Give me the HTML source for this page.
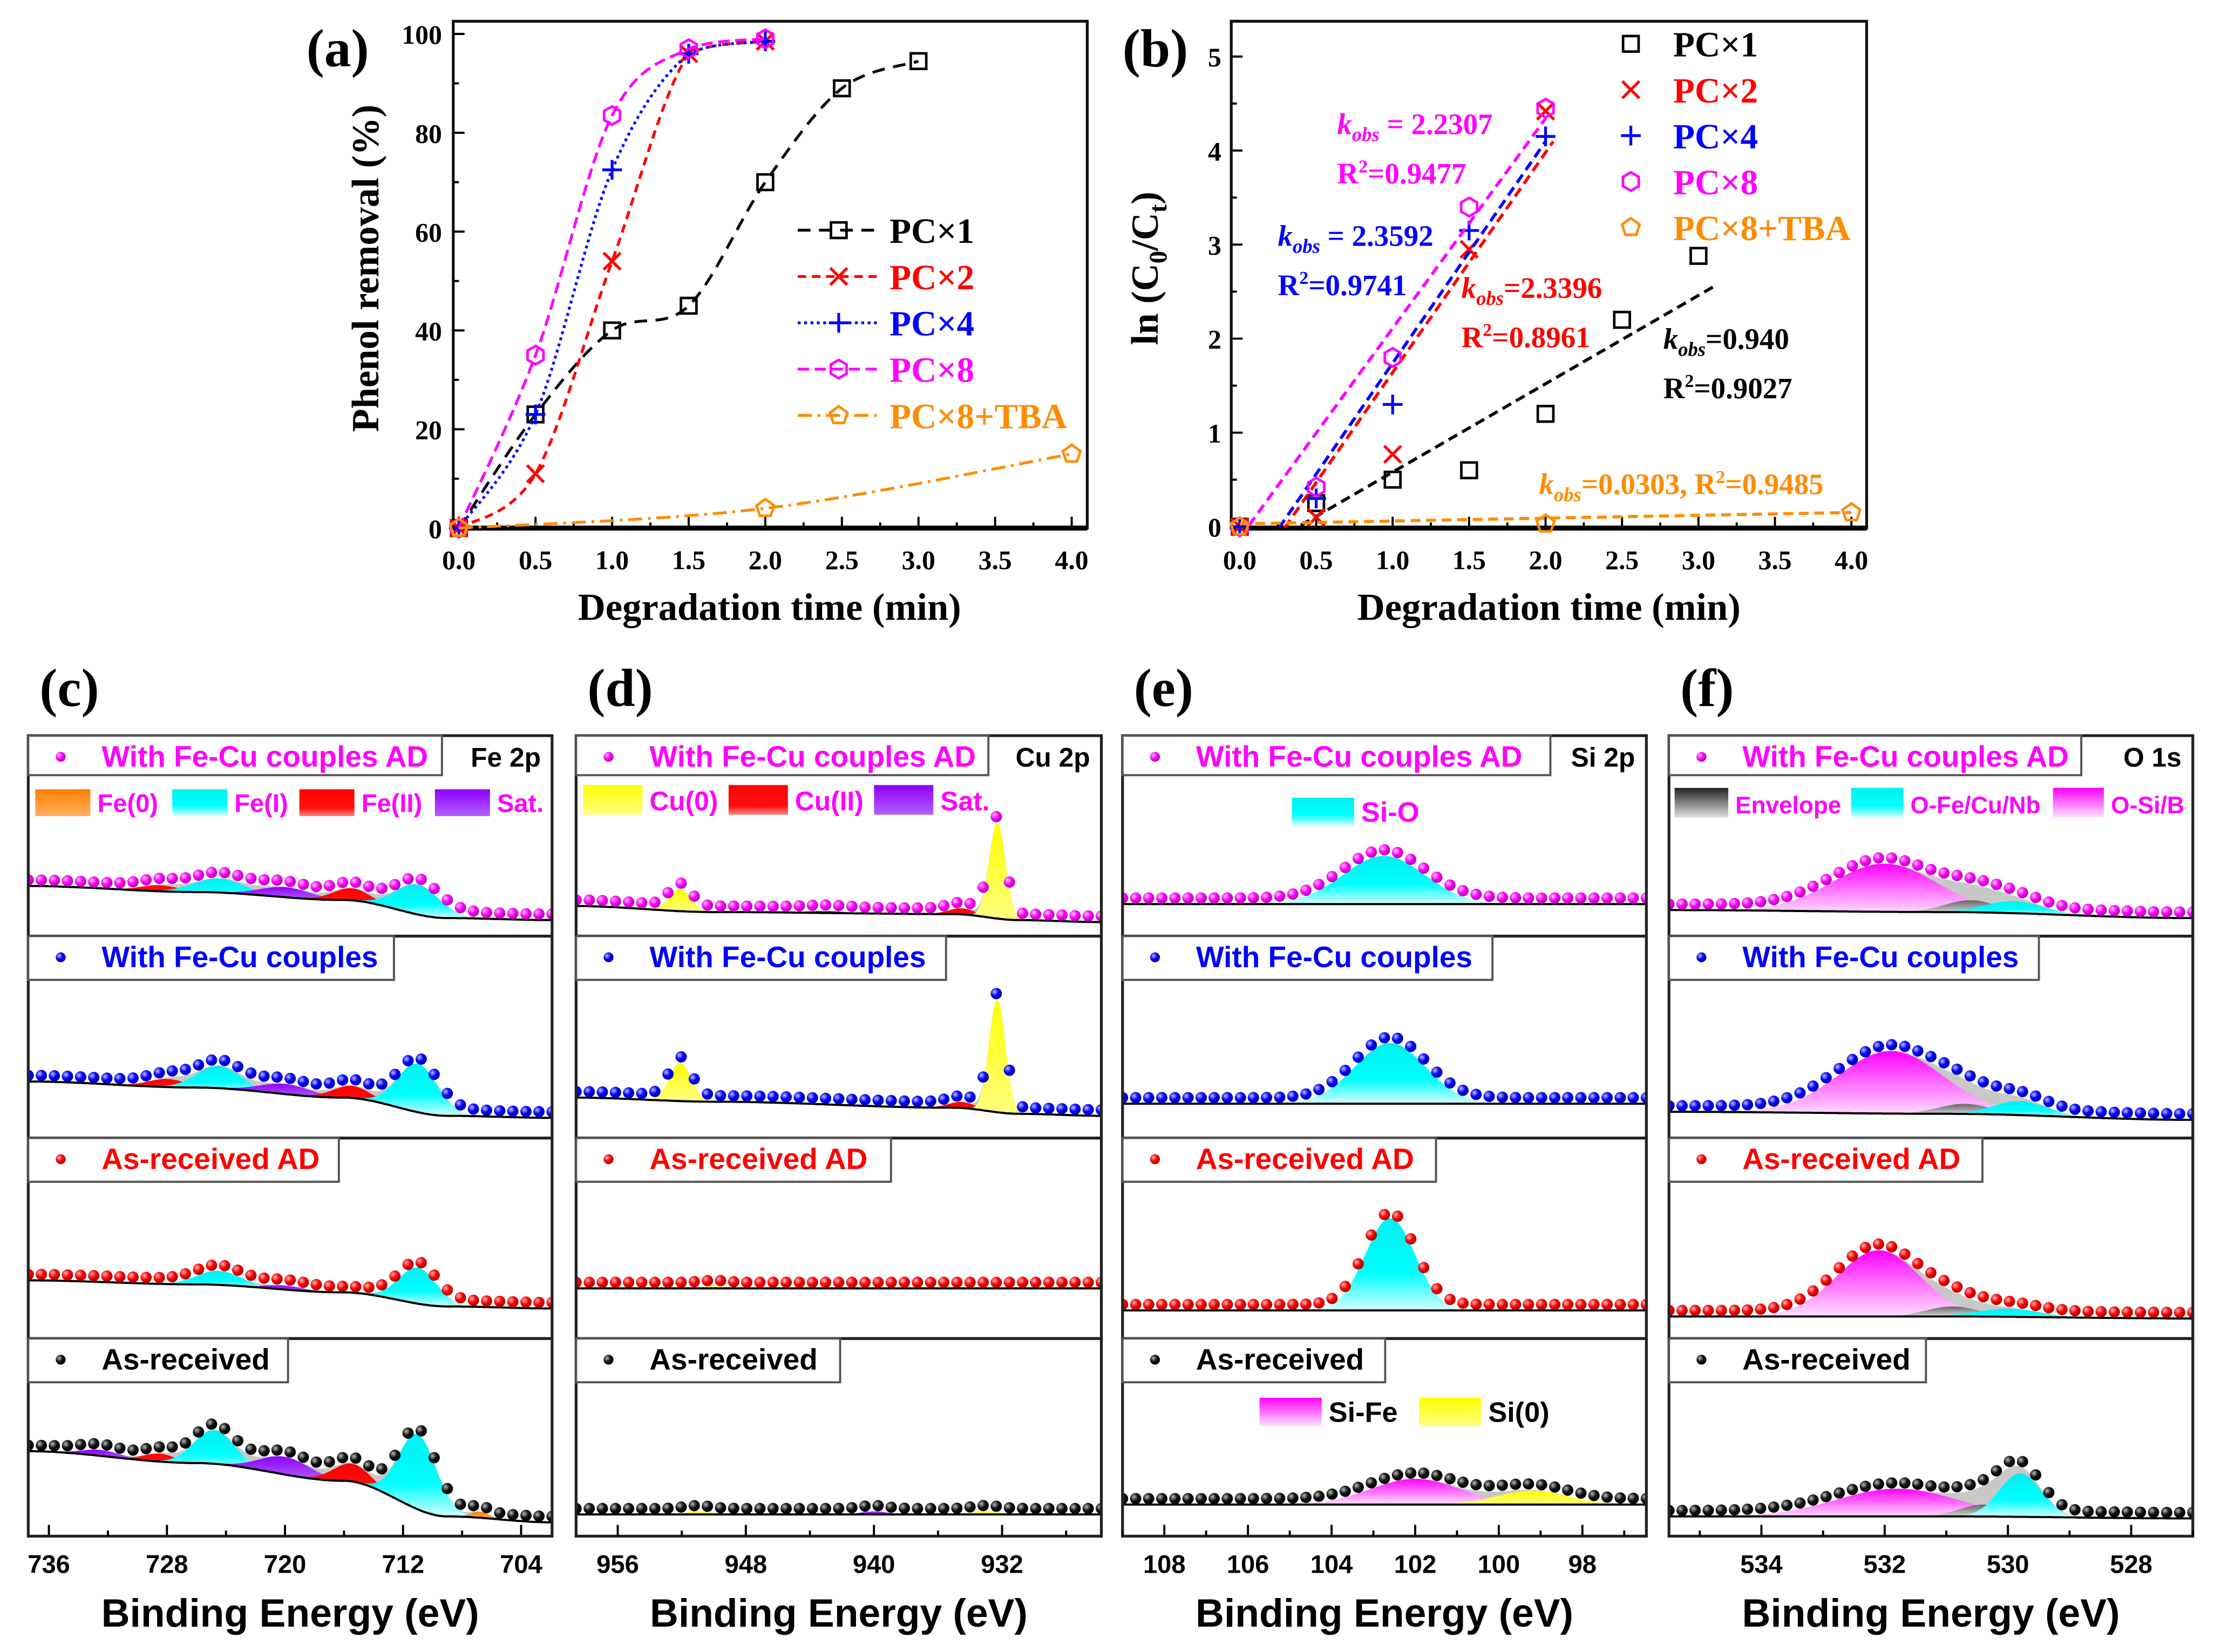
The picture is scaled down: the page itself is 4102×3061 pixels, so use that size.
<!DOCTYPE html>
<html><head><meta charset="utf-8"><style>
html,body{margin:0;padding:0;background:#fff;}
svg{display:block;}
.serif{font-family:"Liberation Serif",serif;font-weight:bold;}
.sans{font-family:"Liberation Sans Narrow","Liberation Sans",sans-serif;font-weight:bold;}
</style></head><body>
<svg id="fig" xmlns="http://www.w3.org/2000/svg" width="4102" height="3061" viewBox="0 0 1568 1170">
<defs>
<linearGradient id="gFeI" x1="0" y1="0" x2="0" y2="1"><stop offset="0" stop-color="#00f0f0"/><stop offset="0.6" stop-color="#00ffff"/><stop offset="1" stop-color="#d8ffff"/></linearGradient>
<linearGradient id="gFeII" x1="0" y1="0" x2="0" y2="1"><stop offset="0" stop-color="#ff0000"/><stop offset="0.7" stop-color="#ff1010"/><stop offset="1" stop-color="#ff8080"/></linearGradient>
<linearGradient id="gFe0" x1="0" y1="0" x2="0" y2="1"><stop offset="0" stop-color="#ff8000"/><stop offset="1" stop-color="#ffb060"/></linearGradient>
<linearGradient id="gSat" x1="0" y1="0" x2="0" y2="1"><stop offset="0" stop-color="#9000ff"/><stop offset="1" stop-color="#b060ff"/></linearGradient>
<linearGradient id="gCu0" x1="0" y1="0" x2="0" y2="1"><stop offset="0" stop-color="#ffff00"/><stop offset="1" stop-color="#ffff80"/></linearGradient>
<linearGradient id="gMag" x1="0" y1="0" x2="0" y2="1"><stop offset="0" stop-color="#ff00ff"/><stop offset="1" stop-color="#ffe0ff"/></linearGradient>
<linearGradient id="gEnv" x1="0" y1="0" x2="0" y2="1"><stop offset="0" stop-color="#222"/><stop offset="1" stop-color="#e0e0e0"/></linearGradient>
<linearGradient id="gEnvF" x1="0" y1="0" x2="0" y2="1"><stop offset="0" stop-color="#666"/><stop offset="1" stop-color="#ddd"/></linearGradient>
<radialGradient id="dM" cx="0.35" cy="0.35" r="0.7"><stop offset="0" stop-color="#ffd0ff"/><stop offset="0.5" stop-color="#ff00ff"/><stop offset="1" stop-color="#b000b0"/></radialGradient>
<radialGradient id="dB" cx="0.35" cy="0.35" r="0.7"><stop offset="0" stop-color="#c0c0ff"/><stop offset="0.5" stop-color="#0000ff"/><stop offset="1" stop-color="#0000a0"/></radialGradient>
<radialGradient id="dR" cx="0.35" cy="0.35" r="0.7"><stop offset="0" stop-color="#ffc0c0"/><stop offset="0.5" stop-color="#ff0000"/><stop offset="1" stop-color="#a00000"/></radialGradient>
<radialGradient id="dK" cx="0.35" cy="0.35" r="0.7"><stop offset="0" stop-color="#bbb"/><stop offset="0.5" stop-color="#111"/><stop offset="1" stop-color="#000"/></radialGradient>
</defs>
<g id="root"></g>
</svg>
<script>
// ---------- Panel (a) data ----------
const aTime1 = [0, 0.5, 1, 1.5, 2, 2.5, 3];
const aPC1 = [0, 23, 40, 45, 70, 89, 94.5];
const aTime2 = [0, 0.5, 1, 1.5, 2];
const aPC2 = [0, 11, 54, 96, 98.5];
const aPC4 = [0, 23, 72.5, 96, 98.5];
const aPC8 = [0, 35, 83.5, 97, 99];
const aTimeT = [0, 2, 4];
const aTBA = [0, 4, 15];
const aXTicks = ["0.0","0.5","1.0","1.5","2.0","2.5","3.0","3.5","4.0"];
const aYTicks = ["0","20","40","60","80","100"];
// ---------- Panel (b) data ----------
const bTime1 = [0, 0.5, 1, 1.5, 2, 2.5, 3];
const bPC1 = [0, 0.25, 0.5, 0.6, 1.2, 2.2, 2.88];
const bTime2 = [0, 0.5, 1, 1.5, 2];
const bPC2 = [0, 0.1, 0.77, 2.95, 4.42];
const bPC4 = [0, 0.3, 1.3, 3.15, 4.15];
const bPC8 = [0, 0.42, 1.8, 3.4, 4.45];
const bTimeT = [0, 2, 4];
const bTBA = [0, 0.03, 0.15];
const bSlopes = [0.940, 2.3396, 2.3592, 2.2307, 0.0303];
const bIntercepts = [-0.36, -0.70, -0.62, -0.12, 0.03];
const bFitEnd = [3.1, 2.05, 2.0, 2.0, 4.0];
const bYTicks = ["0","1","2","3","4","5"];
// ---------- XPS data (baseline [eV, level], components [type, center eV, height, fwhm]) ----------
const feBase = [[[737.4,25],[726,22],[716,18],[709,9],[701.9,8]],[[737.4,28],[726,25],[716,20],[709,11],[701.9,10]],[[737.4,29],[726,27],[716,23],[709,16],[701.9,15]],[[737.4,43],[726,37],[716,28],[709,10],[701.9,7]]];
const feComp = [
 [["FeII",728.5,3,3],["FeI",724.5,7,4],["Sat",720,5,4],["FeII",715.5,6,3],["FeI",711,15,3.5]],
 [["FeII",728,4,3],["FeI",724.5,11,3.5],["Sat",720,5,4],["FeII",715.5,6,3],["FeI",711,24,3.2]],
 [["FeI",724.5,7,3.5],["Sat",720,2,3],["FeI",711,18,3]],
 [["Sat",732.5,3,3],["FeII",728.5,4,2.5],["FeI",724.8,17,3.2],["Sat",720,9,4],["FeII",715.5,9,3],["FeI",711,38,3],["Fe0",706.8,3,1.5]]];
const cuBase = [[[958.6,15],[950,12],[935,11],[931,8],[925.8,7]],[[958.6,20],[950,18],[935,15],[931,12],[925.8,11]],[[958.6,25],[925.8,25]],[[958.6,11],[925.8,11]]];
const cuComp = [
 [["Cu0",952.1,11,1.6],["Sat",943,1,3],["CuII",934.5,3,2],["Cu0",932.3,48,1.2]],
 [["Cu0",952.1,19,1.6],["CuII",934.5,3,2],["Cu0",932.3,56,1.2]],
 [["Cu0",950,1,2]],
 [["Cu0",951,1.5,2],["Sat",940,1.5,2],["Cu0",933,1.5,2]]];
const siBase = [[[109,16],[96.5,16]],[[109,17],[96.5,17]],[[109,14],[96.5,14]],[[109,16],[96.5,16]]];
const siComp = [[["SiO",102.75,24,2.3]],[["SiO",102.6,30,2.0]],[["SiO",102.6,46,1.4]],[["SiFe",102,13,2.5],["Si0",99.2,7,2]]];
const oBase = [[[535.5,13],[531,12],[527,9]],[[535.5,13],[531,12],[527,9]],[[535.5,11],[531,11],[527,10]],[[535.5,10],[531,10],[527,9]]];
const oComp = [
 [["OSi",532,24,2.0],["Env",530.6,6,1.0],["OFe",529.9,6,1.1]],
 [["OSi",531.9,31,2.0],["Env",530.7,5,1.0],["OFe",529.8,7,1.0]],
 [["OSi",532.1,33,1.6],["Env",530.9,5,1.0],["OFe",530,4,1.2]],
 [["OSi",531.8,14,2.3],["Env",530.4,6,0.9],["OFe",529.8,22,0.8]]];
const feTicks = [736,728,720,712,704];
const cuTicks = [956,948,940,932];
const siTicks = [108,106,104,102,100,98];
const oTicks = [534,532,530,528];
const rowLabels = ["With Fe-Cu couples AD","With Fe-Cu couples","As-received AD","As-received"];

const NS="http://www.w3.org/2000/svg";
const root=document.getElementById('root');
function el(tag,attrs,parent){const e=document.createElementNS(NS,tag);for(const k in attrs)e.setAttribute(k,attrs[k]);(parent||root).appendChild(e);return e;}
function txt(s,attrs,parent){const e=el('text',attrs,parent);e.textContent=s;return e;}

function marker(type,x,y,color,g){
  let e;
  if(type==='sq'){e=el('rect',{x:x-5.5,y:y-5.5,width:11,height:11,fill:'none',stroke:color,'stroke-width':1.8},g);}
  else if(type==='x'){e=el('path',{d:`M${x-6},${y-6}L${x+6},${y+6}M${x-6},${y+6}L${x+6},${y-6}`,stroke:color,'stroke-width':2,fill:'none'},g);}
  else if(type==='+'){e=el('path',{d:`M${x-7},${y}L${x+7},${y}M${x},${y-7}L${x},${y+7}`,stroke:color,'stroke-width':2,fill:'none'},g);}
  else if(type==='hex'){let p=[];for(let i=0;i<6;i++){const a=Math.PI/6+i*Math.PI/3;p.push((x+6.5*Math.cos(a)).toFixed(1)+','+(y+6.5*Math.sin(a)).toFixed(1));}e=el('polygon',{points:p.join(' '),fill:'none',stroke:color,'stroke-width':1.8},g);}
  else {let p=[];for(let i=0;i<5;i++){const a=-Math.PI/2+i*2*Math.PI/5;p.push((x+6.5*Math.cos(a)).toFixed(1)+','+(y+6.5*Math.sin(a)).toFixed(1));}e=el('polygon',{points:p.join(' '),fill:'none',stroke:color,'stroke-width':1.8},g);}
  
  
  return e;
}
function spline(pts){
  let d=`M${pts[0][0]},${pts[0][1]}`;
  for(let i=0;i<pts.length-1;i++){
    const p0=pts[i-1]||pts[i],p1=pts[i],p2=pts[i+1],p3=pts[i+2]||p2;
    let c1=[p1[0]+(p2[0]-p0[0])/6,p1[1]+(p2[1]-p0[1])/6],c2=[p2[0]-(p3[0]-p1[0])/6,p2[1]-(p3[1]-p1[1])/6];
    const lo=Math.min(p1[1],p2[1]),hi=Math.max(p1[1],p2[1]);
    c1[1]=Math.min(Math.max(c1[1],lo),hi);c2[1]=Math.min(Math.max(c2[1],lo),hi);
    d+=`C${c1[0].toFixed(1)},${c1[1].toFixed(1)} ${c2[0].toFixed(1)},${c2[1].toFixed(1)} ${p2[0].toFixed(1)},${p2[1].toFixed(1)}`;
  }
  return d;
}
function axesBox(g,x0,y0,x1,y1){
  const b=el('rect',{x:x0,y:y0,width:x1-x0,height:y1-y0,fill:'none',stroke:'#111','stroke-width':2},g);
  
  
  const bl=el('line',{x1:x0,y1:y1,x2:x1,y2:y1,stroke:'#000','stroke-width':3.5},g);
  
  
}

// ================= Panel (a) =================
(function(){
  const g=el('g',{});
  
  
  const X=t=>325+t*108.5, Y=v=>374-v*3.5;
  axesBox(g,321,15,770,374);
  for(let i=0;i<=16;i++){const x=X(i*0.25);const t=el('line',{x1:x,y1:374,x2:x,y2:374-(i%2?4:8),stroke:'#000','stroke-width':1.5},g);}
  aXTicks.forEach((s,i)=>{const t=txt(s,{x:X(i*0.5),y:403,'font-size':19,'text-anchor':'middle',class:'serif'},g);});
  for(let i=0;i<=10;i++){const y=Y(i*10);const t=el('line',{x1:321,y1:y,x2:321+(i%2?4:8),y2:y,stroke:'#000','stroke-width':1.5},g);}
  aYTicks.forEach((s,i)=>{const t=txt(s,{x:313,y:Y(i*20)+7,'font-size':19,'text-anchor':'end',class:'serif'},g);});
  let t=txt('Phenol removal (%)',{x:0,y:0,'font-size':27,'text-anchor':'middle',class:'serif',transform:'translate(268,190) rotate(-90)'},g);
  
  t=txt('Degradation time (min)',{x:545,y:439,'font-size':27,'text-anchor':'middle',class:'serif'},g);
  
  t=txt('(a)',{x:217,y:47,'font-size':38,class:'serif'},g);
  
  const series=[
    [aTime1,aPC1,'#000','sq','9,6','PC×1'],
    [aTime2,aPC2,'#ff0000','x','6,4','PC×2'],
    [aTime2,aPC4,'#0000ff','+','2,2.5','PC×4'],
    [aTime2,aPC8,'#ff00ff','hex','8,4','PC×8'],
    [aTimeT,aTBA,'#ff8c00','pent','10,4,2,4','PC×8+TBA']];
  series.forEach((s,k)=>{
    const pts=s[0].map((tt,i)=>[X(tt),Y(s[1][i])]);
    const p=el('path',{d:spline(pts),fill:'none',stroke:s[2],'stroke-width':2,'stroke-dasharray':s[4]},g);
    
    
    pts.forEach(q=>marker(s[3],q[0],q[1],s[2],g));
    const ly=163+k*32.8;
    const ll=el('line',{x1:565,y1:ly,x2:622,y2:ly,stroke:s[2],'stroke-width':2,'stroke-dasharray':s[4]},g);
    
    
    marker(s[3],594,ly,s[2],g);
    const lt=txt(s[5],{x:630,y:ly+9,'font-size':25,fill:s[2],class:'serif'},g);
    
    
  });
})();

// ================= Panel (b) =================
(function(){
  const g=el('g',{});
  
  
  const X=t=>878+t*108.3, Y=v=>373-v*66.6;
  const clip=el('clipPath',{id:'clipB'},g);
  el('rect',{x:872,y:15,width:450,height:359},clip);
  axesBox(g,872,15,1322,374);
  for(let i=0;i<=16;i++){const x=X(i*0.25);const t=el('line',{x1:x,y1:374,x2:x,y2:374-(i%2?4:8),stroke:'#000','stroke-width':1.5},g);}
  aXTicks.forEach((s,i)=>{const t=txt(s,{x:X(i*0.5),y:403,'font-size':19,'text-anchor':'middle',class:'serif'},g);});
  for(let i=0;i<=10;i++){const y=Y(i*0.5);const t=el('line',{x1:872,y1:y,x2:872+(i%2?4:8),y2:y,stroke:'#000','stroke-width':1.5},g);}
  bYTicks.forEach((s,i)=>{const t=txt(s,{x:865,y:Y(i)+7,'font-size':19,'text-anchor':'end',class:'serif'},g);});
  let t=el('text',{x:0,y:0,'font-size':27,'text-anchor':'middle',class:'serif',transform:'translate(820,190) rotate(-90)'},g);
  t.innerHTML='ln (C<tspan font-size="18" dy="6">0</tspan><tspan dy="-6">/C</tspan><tspan font-size="18" dy="6">t</tspan><tspan dy="-6">)</tspan>';
  
  t=txt('Degradation time (min)',{x:1097,y:439,'font-size':27,'text-anchor':'middle',class:'serif'},g);
  
  t=txt('(b)',{x:795,y:47,'font-size':38,class:'serif'},g);
  
  const series=[
    [bTime1,bPC1,'#000','sq','PC×1'],
    [bTime2,bPC2,'#ff0000','x','PC×2'],
    [bTime2,bPC4,'#0000ff','+','PC×4'],
    [bTime2,bPC8,'#ff00ff','hex','PC×8'],
    [bTimeT,bTBA,'#ff8c00','pent','PC×8+TBA']];
  series.forEach((s,k)=>{
    const m=bSlopes[k], c=bIntercepts[k];
    const xs=Math.max(0,(-0.15-c)/m*(k===4?0:1));
    const fl=el('line',{x1:X(xs),y1:Y(m*xs+c),x2:X(bFitEnd[k]),y2:Y(m*bFitEnd[k]+c),stroke:s[2],'stroke-width':2.2,'stroke-dasharray':'7,4','clip-path':'url(#clipB)'},g);
    
    
    s[0].forEach((tt,i)=>marker(s[3],X(tt),Y(s[1][i]),s[2],g));
    const ly=31+k*32.5;
    marker(s[3],1155,ly,s[2],g);
    const lt=txt(s[4],{x:1185,y:ly+9,'font-size':25,fill:s[2],class:'serif'},g);
    
    
  });
  const ann=[
    [947,95,'2.2307',' = ','#ff00ff',947,130,'0.9477'],
    [905,174,'2.3592',' = ','#0000ff',905,209,'0.9741'],
    [1035,211,'2.3396','=','#ff0000',1035,246,'0.8961'],
    [1178,247,'0.940','=','#000',1178,282,'0.9027']];
  ann.forEach(a=>{
    const k=el('text',{x:a[0],y:a[1],'font-size':21,fill:a[4],class:'serif'},g);
    k.innerHTML='<tspan font-style="italic">k</tspan><tspan font-style="italic" font-size="14" dy="5">obs</tspan><tspan dy="-5">'+a[3]+a[2]+'</tspan>';
    
    
    const r=el('text',{x:a[5],y:a[6],'font-size':21,fill:a[4],class:'serif'},g);
    r.innerHTML='R<tspan font-size="13" dy="-8">2</tspan><tspan dy="8">='+a[7]+'</tspan>';
    
    
  });
  const o=el('text',{x:1090,y:350,'font-size':21,fill:'#ff8c00',class:'serif'},g);
  o.innerHTML='<tspan font-style="italic">k</tspan><tspan font-style="italic" font-size="14" dy="5">obs</tspan><tspan dy="-5">=0.0303, R</tspan><tspan font-size="13" dy="-8">2</tspan><tspan dy="8">=0.9485</tspan>';
  
  
})();

// ================= XPS panels =================
const rowTops=[521,663,806,948], rowBot=1088;
const fillOf={FeI:'url(#gFeI)',FeII:'url(#gFeII)',Fe0:'url(#gFe0)',Sat:'url(#gSat)',Cu0:'url(#gCu0)',CuII:'url(#gFeII)',SiO:'url(#gFeI)',SiFe:'url(#gMag)',Si0:'url(#gCu0)',OSi:'url(#gMag)',OFe:'url(#gFeI)',Env:'url(#gEnvF)'};
const dotFill=['url(#dM)','url(#dB)','url(#dR)','url(#dK)'];
const rowColor=['#ff00ff','#0000ff','#ff0000','#000'];
function gauss(c,E){return c[2]*Math.exp(-4*Math.LN2*Math.pow((E-c[1])/c[3],2));}
function baseAt(b,E){for(let i=0;i<b.length-1;i++){const a=b[i],c=b[i+1];if((E<=a[0]&&E>=c[0])){const f=(a[0]-E)/(a[0]-c[0]);const s=f*f*(3-2*f);return a[1]+(c[1]-a[1])*s;}}return b[b.length-1][1];}
const cols=[
 {id:'c',x0:20,x1:391,e0:737.4,e1:701.9,base:feBase,comp:feComp,ticks:feTicks,core:'Fe 2p',boxW:[293,259,220,184]},
 {id:'d',x0:408,x1:780,e0:958.6,e1:925.8,base:cuBase,comp:cuComp,ticks:cuTicks,core:'Cu 2p',boxW:[292,262,223,187]},
 {id:'e',x0:795,x1:1166,e0:109.0,e1:96.47,base:siBase,comp:siComp,ticks:siTicks,core:'Si 2p',boxW:[303,262,222,186]},
 {id:'f',x0:1182,x1:1553,e0:535.5,e1:527.0,base:oBase,comp:oComp,ticks:oTicks,core:'O 1s',boxW:[292,262,222,182]}];
cols.forEach(C=>{
  const g=el('g',{});
  
  
  const X=E=>C.x0+(C.e0-E)/(C.e0-C.e1)*(C.x1-C.x0);
  for(let r=0;r<4;r++){
    const top=rowTops[r], bot=r<3?rowTops[r+1]:rowBot, h=bot-top;
    const Y=v=>bot-v*h/100;
    const cid='clip'+C.id+r;
    const cp=el('clipPath',{id:cid},g);
    el('rect',{x:C.x0,y:top,width:C.x1-C.x0,height:h},cp);
    const rg=el('g',{'clip-path':'url(#'+cid+')'},g);
    
    
    const base=C.base[r], comps=C.comp[r];
    const N=200, Es=[];for(let i=0;i<=N;i++)Es.push(C.e0-(C.e0-C.e1)*i/N);
    let env='M'+Es.map(E=>X(E).toFixed(1)+','+Y(baseAt(base,E)+comps.reduce((s,c)=>s+gauss(c,E),0)).toFixed(1)).join('L');
    env+='L'+Es.slice().reverse().map(E=>X(E).toFixed(1)+','+Y(baseAt(base,E)).toFixed(1)).join('L')+'Z';
    const ev=el('path',{d:env,fill:'#c8c8c8'},rg);
    
    
    comps.forEach(c=>{
      const Ec=Es.filter(E=>gauss(c,E)>0.3);
      if(!Ec.length)return;
      let d='M'+Ec.map(E=>X(E).toFixed(1)+','+Y(baseAt(base,E)+gauss(c,E)).toFixed(1)).join('L');
      d+='L'+Ec.slice().reverse().map(E=>X(E).toFixed(1)+','+Y(baseAt(base,E)).toFixed(1)).join('L')+'Z';
      const p=el('path',{d:d,fill:fillOf[c[0]]},rg);
      
      
    });
    const bl=el('path',{d:'M'+Es.map(E=>X(E).toFixed(1)+','+Y(baseAt(base,E)).toFixed(1)).join('L'),fill:'none',stroke:'#000','stroke-width':1.5},rg);
    
    
    const ND=40;
    for(let i=0;i<=ND;i++){
      const E=C.e0-(C.e0-C.e1)*i/ND;
      const v=baseAt(base,E)+comps.reduce((s,c)=>s+gauss(c,E),0)+3;
      const d=el('circle',{cx:X(E).toFixed(1),cy:Y(v).toFixed(1),r:4,fill:dotFill[r]},rg);
      
      
    }
    const fr=el('rect',{x:C.x0,y:top,width:C.x1-C.x0,height:h,fill:'none',stroke:'#222','stroke-width':2},g);
    
    
    const lb=el('rect',{x:C.x0,y:top,width:C.boxW[r],height:r===0?28:31,fill:'#fff',stroke:'#555','stroke-width':1.5},g);
    
    
    const ld=el('circle',{cx:C.x0+23,cy:top+15,r:3.5,fill:dotFill[r]},g);
    
    
    const lt=txt(rowLabels[r],{x:C.x0+52,y:top+22,'font-size':21,fill:rowColor[r],class:'sans'},g);
    
    
  }
  const ct=txt(C.core,{x:C.x1-8,y:rowTops[0]+22,'font-size':19,'text-anchor':'end',fill:'#000',class:'sans'},g);
  
  
  const eHi=Math.floor(C.e0), eLo=Math.ceil(C.e1);
  for(let E=eHi;E>=eLo;E--){
    const isMaj=C.ticks.indexOf(E)>=0;
    let show;
    if(C.id==='c'||C.id==='d') show=(E%4===0);
    else if(C.id==='e') show=isMaj||(E%2!==0);
    else show=true;
    if(!show)continue;
    const tk=el('line',{x1:X(E),y1:rowBot,x2:X(E),y2:rowBot-(isMaj?8:4),stroke:'#000','stroke-width':1.5},g);
    
    
  }
  C.ticks.forEach(E=>{
    const t=txt(String(E),{x:X(E),y:1114,'font-size':18,'text-anchor':'middle',class:'sans'},g);
    
    
  });
  const xt=txt('Binding Energy (eV)',{x:(C.x0+C.x1)/2,y:1152,'font-size':28,'text-anchor':'middle',class:'sans'},g);
  
  
  const pl=txt('('+C.id+')',{x:C.x0+8,y:500,'font-size':38,class:'serif'},g);
  
  
});

function swatch(x,y,w,h,fill,label,col,fs,tl){
  const r=el('rect',{x:x,y:y,width:w,height:h,fill:fill});
  
  
  const at={x:x+w+5,y:y+h-3,'font-size':fs||18,fill:col,class:'sans'};
  if(tl){at.textLength=tl;at.lengthAdjust='spacingAndGlyphs';}
  const t=txt(label,at);
  
  
}
swatch(25,559,39,19,'url(#gFe0)','Fe(0)','#ff00ff',18);
swatch(122,559,39,19,'url(#gFeI)','Fe(I)','#ff00ff',18);
swatch(212,559,39,19,'url(#gFeII)','Fe(II)','#ff00ff',18);
swatch(308,559,39,19,'url(#gSat)','Sat.','#ff00ff',18);
swatch(413,556,42,21,'url(#gCu0)','Cu(0)','#ff00ff',19);
swatch(516,556,42,21,'url(#gFeII)','Cu(II)','#ff00ff',19);
swatch(619,556,42,21,'url(#gSat)','Sat.','#ff00ff',19);
swatch(915,565,44,20,'url(#gFeI)','Si-O','#ff00ff',20);
swatch(892,990,44,20,'url(#gMag)','Si-Fe','#000',20);
swatch(1005,990,44,20,'url(#gCu0)','Si(0)','#000',20);
swatch(1186,558,38,21,'url(#gEnv)','Envelope','#ff00ff',17,75);
swatch(1311,558,37,21,'url(#gFeI)','O-Fe/Cu/Nb','#ff00ff',17,92);
swatch(1454,558,36,21,'url(#gMag)','O-Si/B','#ff00ff',17,52);
</script>
</body></html>
